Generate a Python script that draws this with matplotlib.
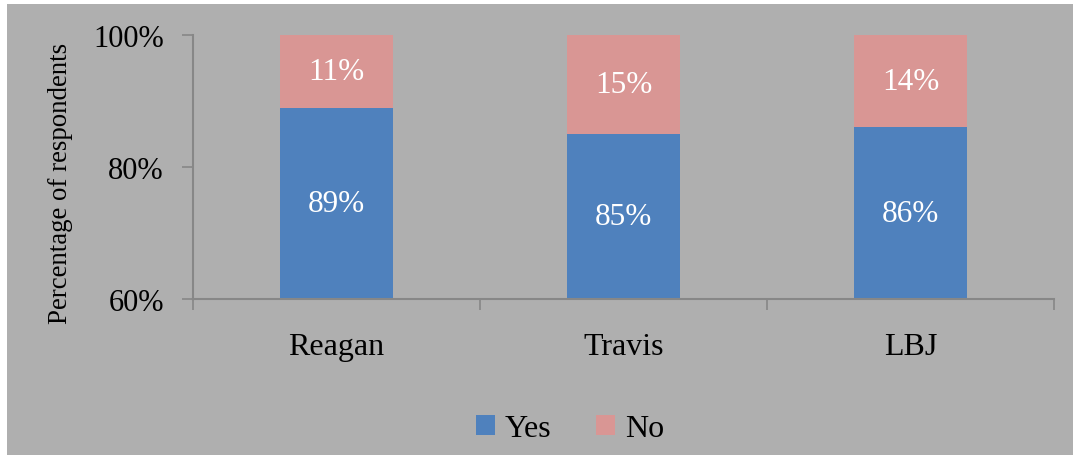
import matplotlib
matplotlib.use("Agg")
import matplotlib.pyplot as plt
from matplotlib.patches import Rectangle

# survey results per location (percent of respondents)
LOCATIONS = ["Reagan", "Travis", "LBJ"]
YES = [89, 85, 86]
NO = [11, 15, 14]
Y_TICKS = [60, 80, 100]

BLUE = "#4f81bd"
PINK = "#d99694"
BG = "#afafaf"
AXIS = "#878787"

plt.rcParams["font.family"] = ["Liberation Serif", "DejaVu Serif"]

fig = plt.figure(figsize=(10.73, 4.56), dpi=100)
fig.patch.set_facecolor("white")
# grey chart area with a thin white margin at the top and left
fig.patches.append(Rectangle((7 / 1073, 0), 1 - 7 / 1073, 1 - 5 / 456,
                             transform=fig.transFigure, facecolor=BG,
                             edgecolor="none", zorder=-10))

ax = fig.add_axes([193 / 1073, 1 - 300 / 456, (1054 - 193) / 1073, 264 / 456])
ax.set_facecolor("none")

x = range(len(LOCATIONS))
bw = 0.397
ax.bar(x, YES, bw, color=BLUE, label="Yes", zorder=2)
ax.bar(x, NO, bw, bottom=YES, color=PINK, label="No", zorder=2)

for i in x:
    ax.text(i, 60 + (YES[i] - 60) / 2, f"{YES[i]}%", ha="center", va="center",
            color="white", fontsize=22.5, zorder=3)
    ax.text(i, YES[i] + NO[i] / 2, f"{NO[i]}%", ha="center", va="center",
            color="white", fontsize=22.5, zorder=3)

ax.set_xlim(-0.5, 2.5)
ax.set_ylim(60, 100)
ax.set_yticks(Y_TICKS)
ax.set_yticklabels([f"{t}%" for t in Y_TICKS], fontsize=22)
ax.set_xticks([-0.5, 0.5, 1.5, 2.5])
ax.set_xticklabels([])
ax.set_xticks(list(x), minor=True)
ax.set_xticklabels(LOCATIONS, minor=True, fontsize=23)
ax.tick_params(axis="x", which="minor", length=0, pad=24)
ax.tick_params(axis="x", which="major", length=8, width=1.2, color=AXIS)
ax.tick_params(axis="y", length=8, width=1.2, color=AXIS, pad=13)

for s in ["top", "right"]:
    ax.spines[s].set_visible(False)
for s in ["left", "bottom"]:
    ax.spines[s].set_color(AXIS)
    ax.spines[s].set_linewidth(1.5)

ax.set_ylabel("Percentage of respondents", fontsize=19.4)
ax.yaxis.set_label_coords(-120 / 861, 0.44)

fig.legend(loc="center", bbox_to_anchor=(570 / 1073, 1 - 430 / 456),
           ncol=2, frameon=False, fontsize=23, handlelength=0.6,
           handleheight=0.6, handletextpad=0.3, columnspacing=1.4)

fig.savefig("out.png", dpi=100, facecolor=fig.get_facecolor())
